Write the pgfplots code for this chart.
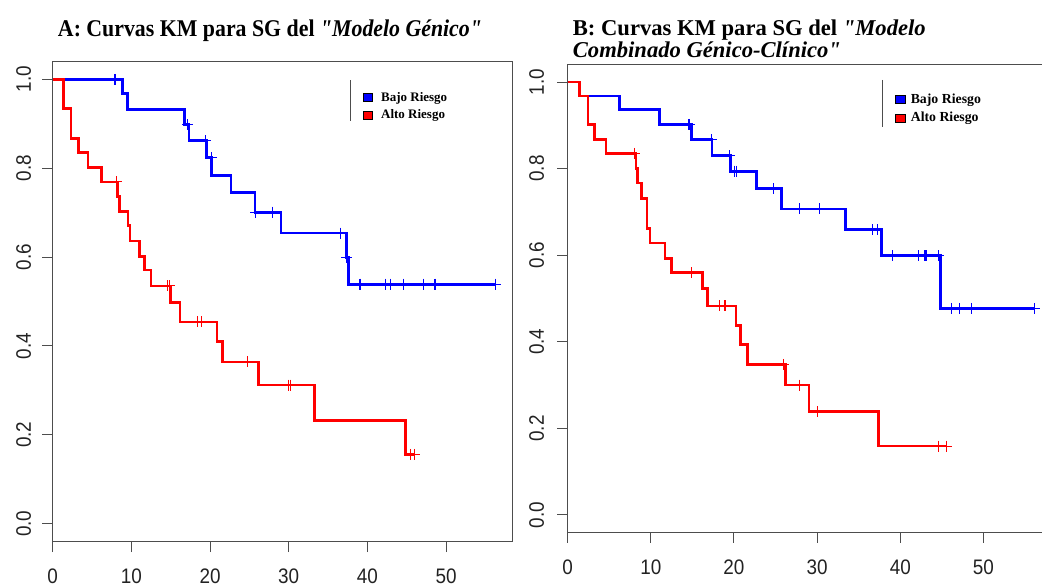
\documentclass[border=0pt]{standalone}
\usepackage{fontspec}
\usepackage{pgfplots}
\pgfplotsset{compat=1.18}
\setmainfont{Liberation Serif}
\newfontfamily\tickfont[FakeStretch=0.9]{Liberation Sans}
\newfontfamily\titlefont[FakeStretch=0.91]{Liberation Serif}
\newfontfamily\titlefontB[FakeStretch=1.0]{Liberation Serif}
\newfontfamily\legfont{Liberation Serif}
\definecolor{boxgray}{HTML}{4D4D4D}
\definecolor{labgray}{HTML}{222222}
\pgfplotsset{
  kmstyle/.style={
    scale only axis, anchor=south west,
    xmin=0, xmax=58.4, ymin=-0.04, ymax=1.04,
    xtick={0,10,20,30,40,50}, xticklabels={0,10,20,30,40,50},
    ytick={0,0.2,0.4,0.6,0.8,1.0}, yticklabels={0.0,0.2,0.4,0.6,0.8,1.0},
    xtick pos=bottom, ytick pos=left, tick align=outside,
    major tick length=10.5pt,
    axis line style={draw=boxgray, line width=1pt},
    tick style={draw=boxgray, line width=1pt},
    ticklabel style={text=labgray, font=\tickfont\fontsize{21}{22}\selectfont},
    yticklabel style={rotate=90, anchor=south},
    xticklabel style={anchor=north},
    xticklabel shift=13.5pt,
    legend style={draw=none, fill=none, inner sep=0pt, row sep=3pt,
      font=\legfont\fontsize{13}{14}\selectfont\bfseries, cells={anchor=west}},
  },
  surv/.style={const plot, line width=2.7pt, forget plot},
  cens/.style={only marks, mark=+, mark size=5.5pt, mark options={line width=1.1pt}, forget plot},
}
\begin{document}
\begin{tikzpicture}
\useasboundingbox (0,0) rectangle (1042pt,587pt);
% ---------------- Panel A ----------------
\begin{axis}[kmstyle, at={(52.7pt,45.5pt)}, width=459.4pt, height=480pt,
  yticklabel shift=7.5pt,
  legend style={at={(axis cs:39.4,0.976)}, anchor=north west}]
\addplot[surv, blue] coordinates {(0,1)(8.86,0.968)(9.49,0.932)(16.74,0.898)(17.33,0.862)(19.58,0.824)(20.21,0.784)(22.67,0.745)(25.72,0.701)(29.03,0.654)(37.37,0.599)(37.63,0.539)(56.31,0.539)};
\addplot[cens, blue] coordinates {(7.92,1)(17.16,0.898)(19.45,0.862)(20.13,0.824)(25.8,0.701)(27.92,0.701)(36.53,0.654)(37.4,0.599)(39.07,0.539)(42.25,0.539)(42.97,0.539)(44.58,0.539)(47.12,0.539)(48.6,0.539)(56.31,0.539)};
\addplot[surv, red] coordinates {(0,1)(1.36,0.935)(2.33,0.867)(3.31,0.836)(4.49,0.801)(6.23,0.769)(8.26,0.737)(8.47,0.702)(9.58,0.671)(9.83,0.636)(11.02,0.602)(11.65,0.571)(12.5,0.535)(14.96,0.497)(16.19,0.454)(20.89,0.410)(21.61,0.364)(26.19,0.312)(33.31,0.233)(44.87,0.156)(46.02,0.156)};
\addplot[cens, red] coordinates {(8.14,0.769)(14.62,0.535)(14.83,0.535)(18.35,0.454)(18.9,0.454)(24.79,0.364)(30.0,0.312)(30.25,0.312)(45.51,0.156)(46.02,0.156)};
\addlegendimage{legend image code/.code={\draw[black, fill=blue, line width=0.6pt] (0pt,-4pt) rectangle (9pt,4pt); \path[draw=none, fill=none] (0pt,0pt) rectangle (16pt,0pt);}}
\addlegendentry{Bajo Riesgo}
\addlegendimage{legend image code/.code={\draw[black, fill=red, line width=0.6pt] (0pt,-4pt) rectangle (9pt,4pt); \path[draw=none, fill=none] (0pt,0pt) rectangle (16pt,0pt);}}
\addlegendentry{Alto Riesgo}
\draw[boxgray, line width=1pt] (axis cs:37.9,0.998) -- (axis cs:37.9,0.905);
\end{axis}
% ---------------- Panel B ----------------
\begin{axis}[kmstyle, at={(567.6pt,54.7pt)}, width=485.7pt, height=467.6pt,
  yticklabel shift=9.5pt,
  legend style={at={(axis cs:39.4,0.978)}, anchor=north west, row sep=3.5pt, font=\legfont\fontsize{13.8}{15}\selectfont\bfseries}]
\addplot[surv, blue] coordinates {(0,1)(1.43,0.968)(6.24,0.936)(11.05,0.902)(14.93,0.867)(17.37,0.830)(19.57,0.794)(22.71,0.754)(25.69,0.707)(33.39,0.659)(37.71,0.599)(44.81,0.477)(56.18,0.477)};
\addplot[cens, blue] coordinates {(14.6,0.902)(17.29,0.867)(19.49,0.830)(20.06,0.794)(20.26,0.794)(24.75,0.754)(27.93,0.707)(30.29,0.707)(36.61,0.659)(37.3,0.659)(39.06,0.599)(42.24,0.599)(42.97,0.599)(43.13,0.599)(44.6,0.599)(46.15,0.477)(47.17,0.477)(48.6,0.477)(56.18,0.477)};
\addplot[surv, red] coordinates {(0,1)(1.43,0.968)(2.45,0.902)(3.27,0.867)(4.61,0.835)(8.24,0.801)(8.44,0.767)(8.85,0.731)(9.54,0.662)(9.91,0.628)(11.7,0.593)(12.48,0.560)(16.19,0.523)(16.8,0.483)(20.26,0.437)(20.83,0.394)(21.65,0.348)(26.21,0.300)(29.03,0.239)(37.39,0.159)(45.54,0.159)};
\addplot[cens, red] coordinates {(8.03,0.835)(14.88,0.560)(18.27,0.483)(18.92,0.483)(25.93,0.348)(27.93,0.300)(30.05,0.239)(44.64,0.159)(45.54,0.159)};
\addlegendimage{legend image code/.code={\draw[black, fill=blue, line width=0.6pt] (0pt,-4pt) rectangle (10pt,4pt); \path[draw=none, fill=none] (0pt,0pt) rectangle (13pt,0pt);}}
\addlegendentry{Bajo Riesgo}
\addlegendimage{legend image code/.code={\draw[black, fill=red, line width=0.6pt] (0pt,-4pt) rectangle (10pt,4pt); \path[draw=none, fill=none] (0pt,0pt) rectangle (13pt,0pt);}}
\addlegendentry{Alto Riesgo}
\draw[boxgray, line width=1pt] (axis cs:37.9,1.005) -- (axis cs:37.9,0.897);
\end{axis}
% ---------------- Titles ----------------
\node[anchor=base, inner sep=0pt] at (270pt,550pt) {\titlefont\fontsize{24}{26}\selectfont\bfseries A: Curvas KM para SG del \textit{"Modelo Génico"}};
\node[anchor=base west, inner sep=0pt] at (572.7pt,551.5pt) {\titlefontB\fontsize{22.6}{26}\selectfont\bfseries B: Curvas KM para SG del \textit{"Modelo}};
\node[anchor=base west, inner sep=0pt] at (572.7pt,529.5pt) {\titlefontB\fontsize{22.6}{26}\selectfont\bfseries\itshape Combinado Génico-Clínico"};
\end{tikzpicture}
\end{document}
